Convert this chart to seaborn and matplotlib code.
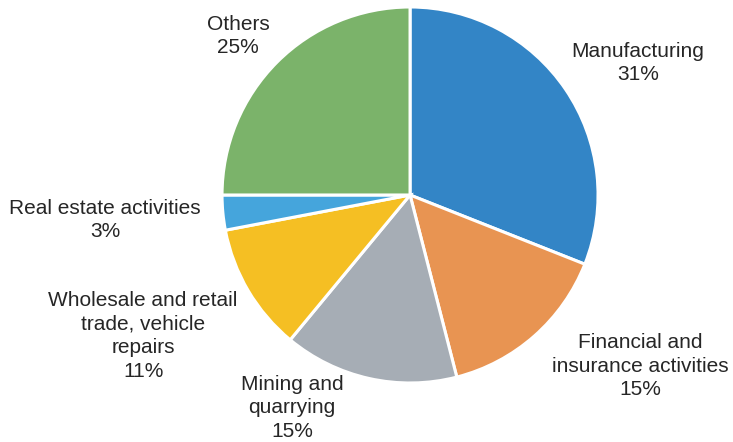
import matplotlib
matplotlib.use("Agg")
import matplotlib.pyplot as plt
import seaborn as sns

# Share of output by sector (%)
sectors = [
    "Manufacturing",
    "Financial and\ninsurance activities",
    "Mining and\nquarrying",
    "Wholesale and retail\ntrade, vehicle\nrepairs",
    "Real estate activities",
    "Others",
]
shares = [31, 15, 15, 11, 3, 25]
colors = ["#3385c6", "#e89452", "#a6adb5", "#f5bf23", "#45a5dc", "#7bb36a"]

# Label anchor points, in units of the pie radius
label_x = [1.213, 1.223, -0.628, -1.420, -1.622, -0.915]
label_y = [0.702, -0.910, -1.133, -0.750, -0.133, 0.846]

sns.set_theme(style="white")
plt.rcParams["font.family"] = ["Liberation Sans", "DejaVu Sans"]

fig = plt.figure(figsize=(7.33, 4.42), dpi=100)
ax = fig.add_axes([0.3029, 0.1335, 0.5130, 0.8507])

ax.pie(
    shares,
    colors=sns.color_palette(colors),
    startangle=90,
    counterclock=False,
    radius=1.0,
    wedgeprops=dict(edgecolor="white", linewidth=2.2),
)
ax.set_xlim(-1, 1)
ax.set_ylim(-1, 1)
ax.set_aspect("equal")
ax.axis("off")

for name, val, x, y in zip(sectors, shares, label_x, label_y):
    ax.text(x, y, f"{name}\n{val}%", ha="center", va="center",
            fontsize=15, linespacing=1.3, color="#262626", clip_on=False)

fig.savefig("out.png", dpi=100)
